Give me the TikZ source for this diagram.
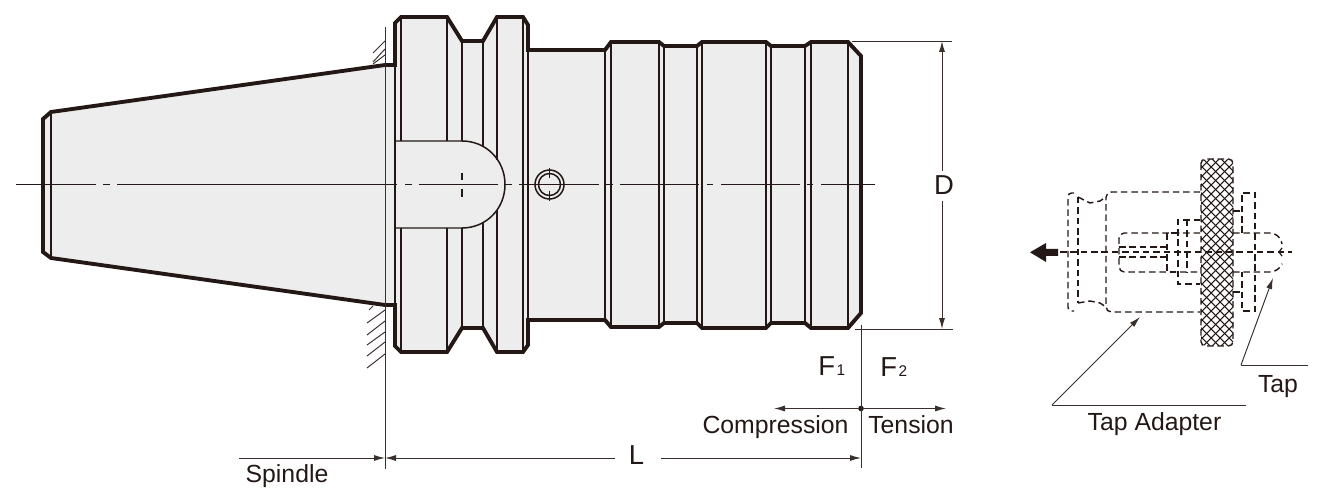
\documentclass[tikz,border=0pt]{standalone}
\usepackage{fontspec}
\setmainfont{Liberation Sans}
\usepackage{tikz}
\usetikzlibrary{arrows.meta}
\definecolor{inkline}{HTML}{231815}
\definecolor{bodygray}{HTML}{EDEDED}
\newcommand{\bigsub}[2]{{\fontsize{15.6pt}{16pt}\selectfont #1\hspace{0.8pt}\fontsize{8.8pt}{9pt}\selectfont #2}}

\begin{document}
\begin{tikzpicture} [
    x=0.02cm, y=-0.02cm,
    >={Latex[length=2.2mm,width=1.2mm]},
    outline/.style = {draw=inkline, line width=2.2pt, line join=miter},
    inner/.style = {draw=inkline, line width=0.85pt},
    dimline/.style = {draw=inkline!90, line width=0.55pt},
    center/.style = {draw=inkline, line width=0.8pt},
    hidden/.style = {draw=inkline, line width=0.8pt, dash pattern=on 3.7pt off 2.2pt},
    label/.style = {anchor=base, inner sep=0pt, text=inkline, font=\fontsize{14.1pt}{15pt}\selectfont},
    biglabel/.style = {anchor=base, text=inkline, font=\fontsize{15.6pt}{16pt}\selectfont}
]
    \useasboundingbox (0,0) rectangle (1319,493);

    % holder body
    \path [fill=bodygray] (43,119) -- (51,112) -- (385,65) -- (395,65) -- (395,23) -- (401,17)
        -- (447,17) -- (462,41) -- (483,41) -- (497,17) -- (523,17) -- (528,25) -- (528,50)
        -- (605,50) -- (611,42) -- (659,42) -- (664,46) -- (697,46) -- (702,42) -- (766,42)
        -- (771,46) -- (805,46) -- (811,42) -- (848,42) -- (861,56) -- (861,313) -- (848,328)
        -- (811,328) -- (805,323) -- (771,323) -- (766,328) -- (702,328) -- (697,323) -- (664,323)
        -- (659,327) -- (611,327) -- (605,320) -- (528,320) -- (528,345) -- (523,352) -- (497,352)
        -- (483,328) -- (462,328) -- (447,352) -- (401,352) -- (395,346) -- (395,305) -- (385,305)
        -- (51,258) -- (43,252) -- cycle;

    % lines across the body
    \draw [inner] (51,112) -- (51,258);
    \draw [inner] (395,64) -- (395,305);
    \foreach \xa in {401,447} {
        \draw [inner] (\xa,17) -- (\xa,141);
        \draw [inner] (\xa,228) -- (\xa,352);
    }
    \draw [inner] (462,41) -- (462,141) (462,228) -- (462,328);
    \draw [inner] (483,41) -- (483,147) (483,222) -- (483,328);
    \draw [inner] (497,17) -- (497,160) (497,210) -- (497,352);
    \foreach \xa/\ya/\yb in {523/17/352, 528/50/320, 605/50/320, 611/42/327, 659/42/327, 664/46/323,
        697/46/323, 702/42/328, 766/42/328, 771/46/323, 805/46/323, 811/42/328, 848/42/328} {
        \draw [inner] (\xa,\ya) -- (\xa,\yb);
    }

    % slot and cross hole
    \draw [inner] (395,141) -- (462,141) .. controls (486,141) and (505,160) .. (505,184.5)
        .. controls (505,209) and (486,228) .. (462,228) -- (395,228);
    \draw [inner] (549.5,184.5) circle [radius=14.5] circle [radius=11];
    \draw [inner] (549.5,168) -- (549.5,178) (549.5,191) -- (549.5,201);
    \draw [inner] (462,173) -- (462,180) (462,189) -- (462,197);

    \draw [outline] (51,112) -- (43,119) -- (43,252) -- (51,258) -- (385,305) -- (395,305) -- (395,346)
        -- (401,352) -- (447,352) -- (462,328) -- (483,328) -- (497,352) -- (523,352) -- (528,345)
        -- (528,320) -- (605,320) -- (611,327) -- (659,327) -- (664,323) -- (697,323) -- (702,328)
        -- (766,328) -- (771,323) -- (805,323) -- (811,328) -- (848,328) -- (861,313) -- (861,56)
        -- (848,42) -- (811,42) -- (805,46) -- (771,46) -- (766,42) -- (702,42) -- (697,46)
        -- (664,46) -- (659,42) -- (611,42) -- (605,50) -- (528,50) -- (528,25) -- (523,17)
        -- (497,17) -- (483,41) -- (462,41) -- (447,17) -- (401,17) -- (395,23) -- (395,65)
        -- (385,65) -- cycle;

    % centre line
    \foreach \xa/\xb in {16/96, 103/110, 117/397, 405/412, 419/498, 505/512, 519/599, 606/613,
        620/699, 707/713, 721/800, 807/813, 821/875} {
        \draw [center] (\xa,184.5) -- (\xb,184.5);
    }

    % spindle face
    \draw [dimline] (385,27) -- (385,469);
    \foreach \ya/\yb in {53/41, 62/49, 64/55} {
        \draw [dimline] (373,\ya) -- (385,\yb);
    }
    \draw [dimline] (369,310) -- (373,306);
    \foreach \ya/\yb in {323/310, 335/321, 345/332, 356/342, 368/354} {
        \draw [dimline] (367,\ya) -- (385,\yb);
    }

    % dimensions
    \coordinate (Dup) at (942,41);
    \coordinate (Ddown) at (942,329);
    \coordinate (Lleft) at (385,458);
    \coordinate (Lright) at (861,458);
    \coordinate (spindleend) at (239,458);
    \coordinate (compend) at (774,408.5);
    \coordinate (tensend) at (946,408.5);
    \node [biglabel, inner sep=3pt] (D) at (944,195) {D};
    \node [biglabel, inner sep=7.5pt] (L) at (636.5,464) {L};
    \node [label] (spindle) at (287,482) {Spindle};
    \node [label] (compression) at (775.5,433) {Compression};
    \node [label] (tension) at (911,433) {Tension};
    \node [label, anchor=base west] (fone) at (818,376) {\bigsub{F}{1}};
    \node [label, anchor=base west] (ftwo) at (880,377) {\bigsub{F}{2}};
    \node [circle, fill=inkline, inner sep=0pt, minimum size=3.2pt] (forcezero) at (861,408.5) {};

    \draw [dimline] (852,41) -- (952,41);
    \draw [dimline] (855,329) -- (953,329);
    \draw [dimline] (861,325) -- (861,468);
    \draw [dimline, ->] (D.north -| Dup) -- (Dup);
    \draw [dimline, ->] (D.south -| Ddown) -- (Ddown);
    \draw [dimline, ->] (L.west |- Lleft) -- (Lleft);
    \draw [dimline, ->, shorten <=2pt] (L.east |- Lright) -- (Lright);
    \draw [dimline, ->] (spindleend) -- (Lleft);
    \draw [dimline, ->] (forcezero) -- (compend);
    \draw [dimline, ->] (forcezero) -- (tensend);

    % tap adapter, right hand view
    \begin{scope}
        \clip [rounded corners=2.5pt] (1201,159) rectangle (1233,346);
        \foreach \k in {0,...,26} {
            \draw [inner, line width=0.6pt] (1014+\k*9,159) -- (1201+\k*9,346);
            \draw [inner, line width=0.6pt] (1201+\k*9,159) -- (1014+\k*9,346);
        }
    \end{scope}
    \draw [hidden, rounded corners=2.5pt] (1201,159) rectangle (1233,346);

    \draw [hidden, rounded corners=2pt] (1074,193) -- (1068,193) -- (1068,311) -- (1074,311);
    \draw [hidden] (1078,197) -- (1078,303);
    \draw [hidden] (1078,197) -- (1090,203) -- (1100,201) -- (1106,197);
    \draw [hidden] (1078,303) -- (1090,301) -- (1100,303) -- (1106,307);
    \draw [hidden, rounded corners=3pt] (1200,192) -- (1106,192) -- (1106,312) -- (1200,312);
    \draw [hidden, rounded corners=3pt] (1200,233) -- (1119,233) -- (1119,272) -- (1200,272);
    \draw [hidden] (1119,247) -- (1166,247) (1119,257) -- (1166,257);
    \draw [hidden] (1177,233) -- (1167,233) -- (1167,272) -- (1177,272);
    \draw [hidden] (1200,220) -- (1178,220) -- (1178,284) -- (1200,284);
    \draw [hidden] (1187,220) -- (1187,272);
    \draw [hidden] (1242,233) -- (1242,193) -- (1255,193) -- (1255,311) -- (1242,311) -- (1242,272);
    \draw [hidden] (1233,211) -- (1242,211) (1233,292) -- (1242,292);
    \draw [hidden, rounded corners=5pt] (1233,233) -- (1279,233) -- (1282,244);
    \draw [hidden, rounded corners=5pt] (1233,272) -- (1279,272) -- (1282,264);
    \draw [inner, line width=0.7pt] (1282,248) -- (1279,252) -- (1282,256);
    \draw [hidden] (1060,252) -- (1292,252);
    \fill [inkline] (1030,252.3) -- (1046,243) -- (1046,249) -- (1058,249) -- (1058,256) -- (1046,256) -- (1046,262) -- cycle;

    % leaders
    \node [label] (tap) at (1278,392) {Tap};
    \node [label] (tapadapter) at (1154.5,430) {Tap Adapter};
    \coordinate (tapkink) at (1241,365);
    \coordinate (tapend) at (1308,365);
    \coordinate (tapaim) at (1273,278);
    \coordinate (adapterkink) at (1052,405);
    \coordinate (adapterend) at (1246,405);
    \coordinate (adapteraim) at (1140,317);
    \draw [dimline] (tapend) -- (tapkink);
    \draw [dimline, ->] (tapkink) -- (tapaim);
    \draw [dimline] (adapterend) -- (adapterkink);
    \draw [dimline, ->] (adapterkink) -- (adapteraim);
\end{tikzpicture}
\end{document}
